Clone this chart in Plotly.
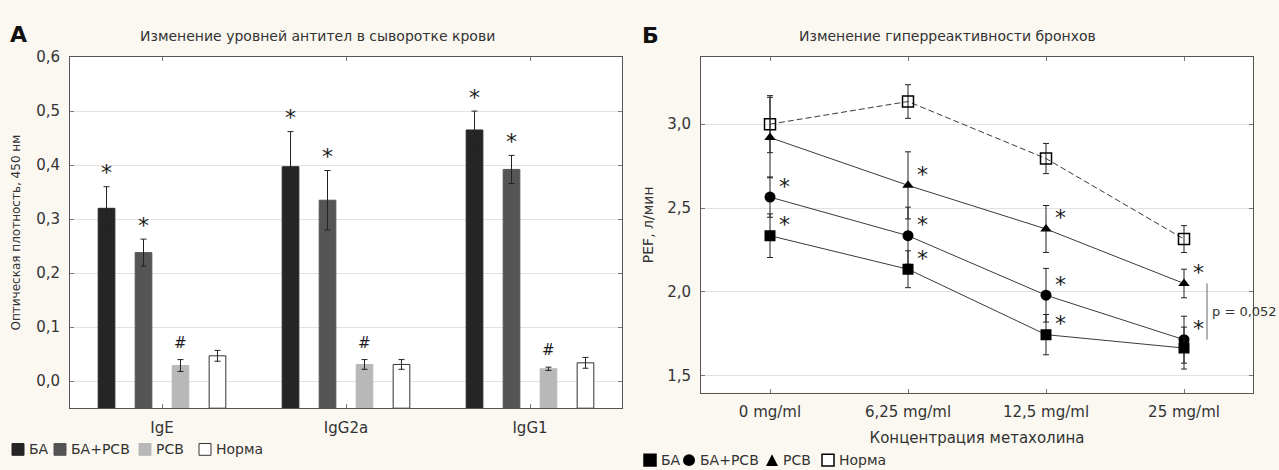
import plotly.graph_objects as go

W, H = 1279, 470

# ---- Panel A: serum antibody levels (optical density, 450 nm) ----
antibodies = ["IgE", "IgG2a", "IgG1"]
od_ba = [0.320, 0.397, 0.465]
od_ba_err = [0.040, 0.065, 0.035]
od_ba_rsv = [0.238, 0.335, 0.392]
od_ba_rsv_err = [0.025, 0.055, 0.026]
od_rsv = [0.029, 0.031, 0.023]
od_rsv_err = [0.011, 0.009, 0.003]
od_norm = [0.047, 0.031, 0.034]
od_norm_err = [0.010, 0.009, 0.010]
od_axis_min = -0.05

# ---- Panel B: bronchial hyperreactivity (PEF, l/min) ----
doses = ["0 mg/ml", "6,25 mg/ml", "12,5 mg/ml", "25 mg/ml"]
pef_norm = [3.000, 3.135, 2.795, 2.315]
pef_norm_err = [0.17, 0.10, 0.09, 0.08]
pef_rsv = [2.920, 2.635, 2.375, 2.050]
pef_rsv_err = [0.24, 0.20, 0.14, 0.085]
pef_ba_rsv = [2.565, 2.335, 1.980, 1.715]
pef_ba_rsv_err = [0.12, 0.17, 0.16, 0.14]
pef_ba = [2.335, 2.135, 1.745, 1.665]
pef_ba_err = [0.13, 0.11, 0.12, 0.125]
star_rsv = [False, True, True, True]
star_ba_rsv = [True, True, True, True]
star_ba = [True, True, True, False]
p_text = "p = 0,052"

FONT = "DejaVu Sans"
TXT = "#333333"
MARK = "#1a1a1a"
C_BA, C_BARSV, C_RSV, C_NORM = "#252525", "#555555", "#b8b8b8", "#ffffff"


def px(x):
    return x / W


def py(y):
    return 1 - y / H


fig = go.Figure()

bar_series = [
    ("БА", od_ba, od_ba_err, C_BA, C_BA),
    ("БА+PCB", od_ba_rsv, od_ba_rsv_err, C_BARSV, C_BARSV),
    ("PCB", od_rsv, od_rsv_err, C_RSV, C_RSV),
    ("Норма", od_norm, od_norm_err, C_NORM, "#333333"),
]
for name, vals, errs, fill, edge in bar_series:
    fig.add_trace(go.Bar(
        x=antibodies, y=[v - od_axis_min for v in vals], base=od_axis_min,
        name=name, marker=dict(color=fill, line=dict(color=edge, width=1)),
        error_y=dict(type="data", array=errs, color="#222222", thickness=1, width=3),
        xaxis="x", yaxis="y", showlegend=False,
    ))

# significance marks above the bars (pixel offset of each bar inside its group)
bar_offsets = [-55.5, -18.5, 18.5]
for offset, (vals, errs, mark, size, shift) in zip(bar_offsets, [
    (od_ba, od_ba_err, "*", 22, 14),
    (od_ba_rsv, od_ba_rsv_err, "*", 22, 14),
    (od_rsv, od_rsv_err, "#", 15, 17),
]):
    for cat, v, e in zip(antibodies, vals, errs):
        fig.add_annotation(x=cat, y=v + e, xref="x", yref="y", text=mark,
                           showarrow=False, xshift=offset, yshift=shift,
                           yanchor="middle", font=dict(family=FONT, size=size, color=MARK))

# line series of panel B
line_series = [
    ("Норма", pef_norm, pef_norm_err, "square-open", 11, "dash", None),
    ("PCB", pef_rsv, pef_rsv_err, "triangle-up", 10, "solid", star_rsv),
    ("БА+PCB", pef_ba_rsv, pef_ba_rsv_err, "circle", 11, "solid", star_ba_rsv),
    ("БА", pef_ba, pef_ba_err, "square", 11, "solid", star_ba),
]
for name, vals, errs, sym, size, dash, stars in line_series:
    fig.add_trace(go.Scatter(
        x=doses, y=vals, name=name, mode="lines+markers",
        line=dict(color="#3a3a3a", width=1, dash="6px,3px" if dash == "dash" else "solid"),
        marker=dict(symbol=sym, size=size, color="#000000",
                    line=dict(color="#000000", width=1.5 if sym.endswith("open") else 0)),
        error_y=dict(type="data", array=errs, color="#222222", thickness=1, width=3),
        xaxis="x2", yaxis="y2", showlegend=False,
    ))
    if stars:
        for d, v, s in zip(doses, vals, stars):
            if s:
                fig.add_annotation(x=d, y=v, xref="x2", yref="y2", text="*",
                                   showarrow=False, xshift=14, yshift=11, yanchor="middle",
                                   font=dict(family=FONT, size=22, color=MARK))

# p-value bracket between PCB and БА+PCB at the highest dose
fig.add_shape(type="line", xref="x2", yref="y2", xsizemode="pixel", xanchor=3,
              x0=23, x1=23, y0=pef_rsv[3], y1=pef_ba_rsv[3],
              line=dict(color="#666666", width=1))
fig.add_annotation(x=3, y=(pef_rsv[3] + pef_ba_rsv[3]) / 2, xref="x2", yref="y2",
                   text=p_text, showarrow=False, xshift=26, xanchor="left",
                   font=dict(family=FONT, size=13, color=TXT))

axis_common = dict(showline=True, linecolor="#555555", linewidth=1, mirror="ticks",
                   ticks="inside", ticklen=4, tickcolor="#777777",
                   tickfont=dict(family=FONT, size=15, color=TXT))

fig.update_layout(
    width=W, height=H, autosize=False,
    margin=dict(l=0, r=0, t=0, b=0),
    paper_bgcolor="#fbf8f2", plot_bgcolor="#ffffff",
    separators=", ",
    barmode="group", bargap=0.196, bargroupgap=0.55,
    xaxis=dict(domain=[px(70), px(622)], anchor="y", showgrid=False,
               ticklabelstandoff=6, **axis_common),
    yaxis=dict(domain=[py(407), py(49)], anchor="x", range=[od_axis_min, 0.6],
               dtick=0.1, tick0=0, tickformat=".1f", showgrid=True,
               gridcolor="#e2e2e2", gridwidth=1, zeroline=False, ticklabelstandoff=6,
               title=dict(text="Оптическая плотность, 450 нм", standoff=12,
                          font=dict(family=FONT, size=12, color=TXT)),
               **axis_common),
    xaxis2=dict(domain=[px(701), px(1253)], anchor="y2", showgrid=False,
                range=[-0.5, 3.5], ticklabelstandoff=5,
                title=dict(text="Концентрация метахолина", standoff=12,
                           font=dict(family=FONT, size=15, color=TXT)),
                **axis_common),
    yaxis2=dict(domain=[py(391), py(49)], anchor="x2", range=[1.4, 3.4],
                tickvals=[1.5, 2.0, 2.5, 3.0], tickformat=".1f", showgrid=True,
                gridcolor="#e2e2e2", gridwidth=1, zeroline=False, ticklabelstandoff=6,
                title=dict(text="PEF, л/мин", standoff=10,
                           font=dict(family=FONT, size=14, color=TXT)),
                **axis_common),
)

# panel letters and titles
for text, x, y, size, bold in [
    ("A", 18, 26, 22, True), ("Б", 650, 27, 22, True),
    ("Изменение уровней антител в сыворотке крови", 317, 28, 14, False),
    ("Изменение гиперреактивности бронхов", 947, 28, 14, False),
]:
    fig.add_annotation(x=px(x), y=py(y), xref="paper", yref="paper", showarrow=False,
                       text=f"<b>{text}</b>" if bold else text, xanchor="center", yanchor="middle",
                       font=dict(family=FONT, size=size, color="#111111" if bold else TXT))

# panel A legend
for x, label, fill, edge in [(12, "БА", C_BA, C_BA), (54, "БА+PCB", C_BARSV, C_BARSV),
                              (139, "PCB", C_RSV, C_RSV), (199, "Норма", C_NORM, "#333333")]:
    fig.add_shape(type="rect", xref="paper", yref="paper", x0=px(x), x1=px(x + 12),
                  y0=py(455), y1=py(443), fillcolor=fill, line=dict(color=edge, width=1))
    fig.add_annotation(x=px(x + 15), y=py(449), xref="paper", yref="paper", text=label,
                       showarrow=False, xanchor="left", yanchor="middle",
                       font=dict(family=FONT, size=14, color=TXT))

# panel B legend
for x, label, sym in [(644, "БА", "square"), (683, "БА+PCB", "circle"),
                      (766, "PCB", "triangle-up"), (822, "Норма", "square-open")]:
    cx, cy = x + 6, 460
    if sym == "circle":
        fig.add_shape(type="circle", xref="paper", yref="paper", x0=px(cx - 6), x1=px(cx + 6),
                      y0=py(cy + 6), y1=py(cy - 6), fillcolor="#000", line=dict(color="#000", width=0))
    elif sym == "triangle-up":
        fig.add_shape(type="path", xref="paper", yref="paper",
                      path=f"M {px(cx-6)} {py(cy+6)} L {px(cx+6)} {py(cy+6)} L {px(cx)} {py(cy-6)} Z",
                      fillcolor="#000", line=dict(color="#000", width=0))
    else:
        filled = sym == "square"
        fig.add_shape(type="rect", xref="paper", yref="paper", x0=px(cx - 6), x1=px(cx + 6),
                      y0=py(cy + 6), y1=py(cy - 6), fillcolor="#000" if filled else "#fff",
                      line=dict(color="#000", width=1.5))
    fig.add_annotation(x=px(x + 15), y=py(cy), xref="paper", yref="paper", text=label,
                       showarrow=False, xanchor="left", yanchor="middle",
                       font=dict(family=FONT, size=14, color=TXT))

fig.write_html("out.html")
